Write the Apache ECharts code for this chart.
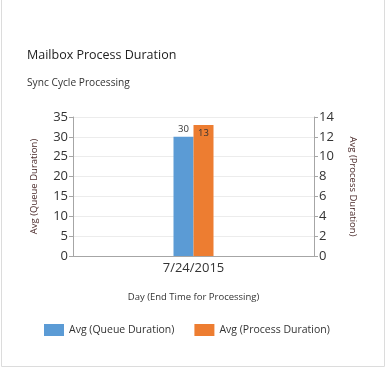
<!DOCTYPE html>
<html><head><meta charset="utf-8">
<script src="https://cdn.jsdelivr.net/npm/echarts@6/dist/echarts.min.js"></script>
<style>html,body{margin:0;padding:0;background:#fff}#c{width:387px;height:373px}</style>
</head><body><div id="c"></div>
<script>
var categories = ['7/24/2015'];
var queueDuration = [30];
var processDuration = [13.2];
var leftTicks = {min: 0, max: 35, interval: 5};
var rightTicks = {min: 0, max: 14, interval: 2};

var FONT = '"Open Sans", "Noto Sans", sans-serif';
var chart = echarts.init(document.getElementById('c'), null, {renderer: 'canvas'});
chart.setOption({
  animation: false,
  textStyle: {fontFamily: FONT},
  graphic: [{type: 'rect', shape: {x: 1.5, y: -5, width: 383, height: 371.5}, style: {fill: 'none', stroke: '#dcdcdc', lineWidth: 1}, silent: true}],
  title: [
    {text: 'Mailbox Process Duration', left: 22, top: 44, textStyle: {fontFamily: FONT, fontSize: 12.5, fontWeight: 'normal', color: '#222'}},
    {text: 'Sync Cycle Processing', left: 22, top: 73, textStyle: {fontFamily: FONT, fontSize: 10.2, fontWeight: 'normal', color: '#333'}}
  ],
  grid: {left: 73, right: 73, top: 117, bottom: 117},
  legend: {
    left: 39, top: 319, itemWidth: 20, itemHeight: 12, itemGap: 20,
    icon: 'rect',
    textStyle: {fontFamily: FONT, fontSize: 10.5, color: '#333'},
    data: ['Avg (Queue Duration)', 'Avg (Process Duration)']
  },
  xAxis: {
    type: 'category', data: categories,
    name: 'Day (End Time for Processing)', nameLocation: 'middle', nameGap: 36,
    nameTextStyle: {fontFamily: FONT, fontSize: 9.5, color: '#333'},
    axisLine: {lineStyle: {color: '#a6a6a6'}},
    axisTick: {alignWithLabel: true, length: 4, lineStyle: {color: '#a6a6a6'}},
    axisLabel: {fontFamily: FONT, fontSize: 13, color: '#333', margin: 6}
  },
  yAxis: [
    {type: 'value', min: leftTicks.min, max: leftTicks.max, interval: leftTicks.interval,
     name: 'Avg (Queue Duration)', nameLocation: 'middle', nameGap: 34,
     nameTextStyle: {fontFamily: FONT, fontSize: 9.5, color: '#4a2a2a'},
     axisLine: {show: true, lineStyle: {color: '#a6a6a6'}},
     axisTick: {show: true, length: 4, lineStyle: {color: '#a6a6a6'}},
     axisLabel: {fontFamily: FONT, fontSize: 13, color: '#333', margin: 5},
     splitLine: {lineStyle: {color: '#ececec'}}},
    {type: 'value', min: rightTicks.min, max: rightTicks.max, interval: rightTicks.interval,
     name: 'Avg (Process Duration)', nameLocation: 'middle', nameGap: 34, nameRotate: -90,
     nameTextStyle: {fontFamily: FONT, fontSize: 9.5, color: '#4a2a2a'},
     axisLine: {show: true, lineStyle: {color: '#a6a6a6'}},
     axisTick: {show: true, length: 4, lineStyle: {color: '#a6a6a6'}},
     axisLabel: {fontFamily: FONT, fontSize: 13, color: '#333', margin: 5},
     splitLine: {show: false}}
  ],
  series: [
    {name: 'Avg (Queue Duration)', type: 'bar', yAxisIndex: 0, data: queueDuration,
     barWidth: 20, barGap: '0%', itemStyle: {color: '#5B9BD5'},
     label: {show: true, position: 'top', distance: 3, fontFamily: FONT, fontSize: 9.5, color: '#333',
             formatter: function (p) { return Math.round(p.value); }}},
    {name: 'Avg (Process Duration)', type: 'bar', yAxisIndex: 1, data: processDuration,
     barWidth: 20, barGap: '0%', itemStyle: {color: '#ED7D31'},
     label: {show: true, position: 'insideTop', distance: 3, fontFamily: FONT, fontSize: 9.5, color: '#333',
             formatter: function (p) { return Math.round(p.value); }}}
  ]
});
</script></body></html>
